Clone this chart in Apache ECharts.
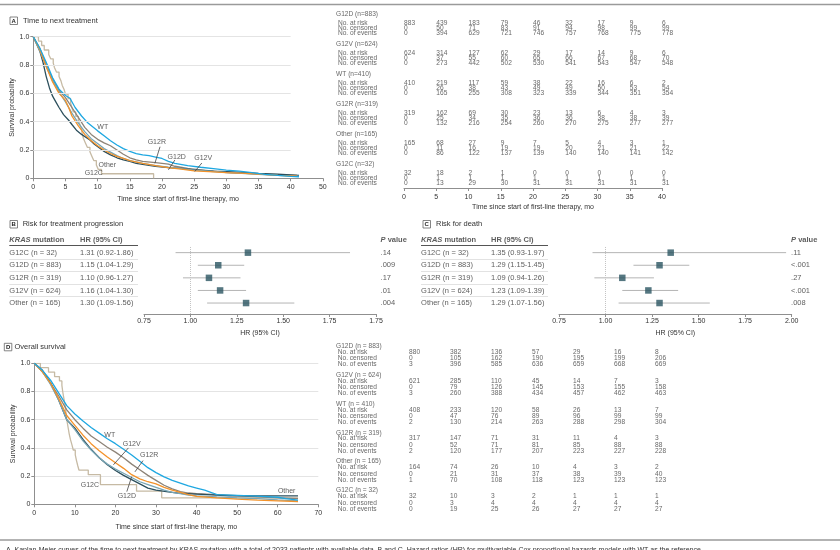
<!DOCTYPE html>
<html lang="en">
<head>
<meta charset="UTF-8">
<title>KRAS mutation and outcomes</title>
<script src="https://cdn.jsdelivr.net/npm/echarts@6.0.0/dist/echarts.min.js"></script>
<style>
  html, body { margin: 0; padding: 0; background: #fff; }
  #chart { width: 840px; height: 550px; }
</style>
</head>
<body>
<div id="chart"></div>
<script>
// ---- data ----
// Kaplan-Meier, time to next treatment (months, survival probability)
const kmA_WT = [[0,1],[1,0.92],[2,0.82],[3,0.71],[4,0.63],[5,0.585],[5.7,0.565],[6.5,0.5],[7.5,0.44],[8.5,0.39],[10,0.335],[11,0.3],[12,0.265],[13,0.235],[14,0.21],[15,0.19],[16,0.175],[17,0.165],[18,0.16],[19,0.15],[20,0.14],[21,0.12],[22,0.105],[24,0.09],[26,0.078],[28,0.068],[30,0.058],[32,0.05],[34,0.04],[36,0.028],[38,0.02],[40,0.014],[41.3,0.011]];
const kmA_G12D = [[0,1],[1,0.9],[2,0.79],[3,0.69],[4,0.61],[5,0.54],[6,0.46],[7,0.39],[8,0.33],[9,0.28],[10,0.245],[11,0.21],[12,0.185],[13,0.16],[14,0.14],[15,0.125],[17,0.105],[19,0.09],[21,0.078],[23,0.068],[25,0.058],[28,0.048],[30,0.042],[33,0.034],[35,0.028],[38,0.021],[41.3,0.016]];
const kmA_G12V = [[0,1],[1,0.91],[2,0.79],[3,0.68],[4,0.6],[5,0.55],[5.5,0.5],[6,0.44],[7,0.37],[8,0.31],[9,0.265],[10,0.23],[11,0.2],[12,0.175],[13,0.155],[14,0.14],[15,0.125],[17,0.105],[19,0.09],[21,0.075],[23,0.065],[25,0.052],[28,0.045],[30,0.04],[33,0.035],[35,0.03],[38,0.02],[41,0.015]];
const kmA_G12R = [[0,1],[1,0.92],[2,0.8],[3,0.7],[4,0.62],[5,0.57],[6,0.5],[7,0.43],[8,0.36],[9,0.31],[10,0.275],[11,0.25],[12,0.23],[13,0.2],[14,0.17],[15,0.145],[16,0.13],[17,0.12],[19,0.11],[21,0.1],[22,0.085],[24,0.07],[26,0.06],[28,0.05],[30,0.04],[33,0.035],[35,0.03],[38,0.025],[41,0.02]];
const kmA_Other = [[0,1],[0.5,0.95],[1,0.9],[1.5,0.82],[2,0.72],[2.5,0.64],[3,0.58],[3.5,0.54],[4,0.5],[4.7,0.45],[5.5,0.41],[6,0.38],[6.7,0.34],[7.5,0.31],[8.8,0.27],[9.5,0.24],[10.4,0.21],[11,0.19],[12,0.165],[13,0.145],[14,0.13],[15,0.12],[16,0.105],[17.5,0.095],[19,0.085],[21,0.075],[23,0.07],[25,0.06],[28,0.05],[31,0.045],[35,0.035],[38,0.03],[41.3,0.02]];
const kmA_G12C = [[0,1],[0.8,0.969],[1.3,0.938],[1.7,0.906],[2.4,0.875],[2.7,0.844],[3.1,0.813],[3.3,0.781],[3.6,0.75],[4.0,0.719],[4.3,0.688],[4.5,0.656],[4.8,0.625],[5.0,0.594],[5.4,0.563],[5.8,0.531],[6.0,0.5],[6.2,0.469],[6.6,0.438],[7.0,0.406],[7.3,0.375],[7.5,0.344],[7.6,0.313],[7.8,0.281],[8.1,0.25],[8.4,0.219],[8.8,0.188],[9.1,0.156],[9.4,0.125],[9.8,0.094],[10.1,0.063],[10.6,0.032],[18.7,0]];

// Kaplan-Meier, overall survival
const kmD_WT = [[0,1],[2,0.95],[4,0.88],[6,0.79],[8,0.7],[10,0.64],[12,0.59],[14,0.545],[16,0.505],[18,0.465],[20,0.43],[22,0.39],[24,0.35],[26,0.305],[28,0.26],[30,0.225],[32,0.195],[34,0.17],[36,0.15],[38,0.13],[40,0.115],[42,0.1],[44,0.08],[45,0.068],[50,0.063],[55,0.058],[60,0.05],[62,0.04],[65,0.03]];
const kmD_G12D = [[0,1],[2,0.94],[4,0.85],[6,0.74],[8,0.6],[10,0.53],[12,0.45],[14,0.385],[16,0.33],[18,0.285],[20,0.25],[22,0.22],[24,0.19],[26,0.16],[28,0.14],[30,0.12],[32,0.1],[34,0.085],[36,0.075],[38,0.065],[40,0.06],[45,0.052],[50,0.045],[55,0.04],[60,0.032],[65,0.025]];
const kmD_G12V = [[0,1],[2,0.94],[4,0.86],[6,0.75],[8,0.63],[10,0.56],[12,0.49],[14,0.43],[16,0.38],[18,0.335],[20,0.295],[22,0.255],[24,0.21],[26,0.18],[28,0.16],[30,0.145],[32,0.12],[34,0.1],[36,0.085],[38,0.068],[40,0.056],[45,0.045],[50,0.036],[55,0.03],[60,0.025],[65,0.02]];
const kmD_G12R = [[0,1],[2,0.94],[4,0.86],[6,0.77],[8,0.67],[10,0.6],[12,0.54],[14,0.485],[16,0.445],[18,0.405],[20,0.37],[22,0.33],[24,0.285],[26,0.245],[28,0.205],[30,0.17],[32,0.135],[34,0.11],[36,0.09],[38,0.08],[40,0.075],[45,0.068],[50,0.062],[55,0.052],[60,0.045],[65,0.04]];
const kmD_Other = [[0,1],[2,0.95],[4,0.86],[6,0.74],[8,0.6],[10,0.54],[12,0.46],[14,0.39],[16,0.33],[18,0.28],[20,0.24],[22,0.205],[24,0.175],[26,0.145],[28,0.115],[30,0.1],[33,0.088],[36,0.078],[40,0.072],[45,0.065],[48,0.06],[65,0.06]];
const kmD_G12C = [[0,1],[1.5,0.969],[3.5,0.938],[5,0.906],[6.2,0.875],[6.8,0.844],[7.0,0.8],[7.3,0.75],[7.6,0.7],[7.8,0.65],[8.0,0.6],[8.3,0.55],[8.6,0.5],[8.9,0.46],[9.3,0.42],[9.6,0.385],[10.1,0.35],[10.4,0.31],[10.7,0.275],[11.0,0.243],[13.3,0.21],[16.3,0.14],[25.2,0.093],[31.4,0.046],[65,0.046]];

// number-at-risk tables
const tableGroupsA = ['G12D (n=883)','G12V (n=624)','WT (n=410)','G12R (n=319)','Other (n=165)','G12C (n=32)'];
const tableColsA = [0,5,10,15,20,25,30,35,40];
const atRiskA = [[883,439,183,79,46,32,17,9,6],[624,314,127,62,29,17,14,9,6],[410,219,117,59,38,22,16,6,2],[319,162,69,30,23,13,6,4,3],[165,68,27,9,7,5,4,3,1],[32,18,2,1,0,0,0,0,0]];
const censoredA = [[0,50,71,83,91,94,98,99,99],[0,37,55,60,65,66,67,68,70],[0,26,38,43,49,49,50,53,54],[0,25,34,35,36,36,38,38,39],[0,11,16,19,19,20,21,21,22],[0,1,1,1,1,1,1,1,1]];
const eventsA = [[0,394,629,721,746,757,768,775,778],[0,273,442,502,530,541,543,547,548],[0,165,255,308,323,339,344,351,354],[0,132,216,254,260,270,275,277,277],[0,86,122,137,139,140,140,141,142],[0,13,29,30,31,31,31,31,31]];

const tableGroupsD = ['G12D (n = 883)','G12V (n = 624)','WT (n = 410)','G12R (n = 319)','Other (n = 165)','G12C (n = 32)'];
const tableColsD = [0,10,20,30,40,50,60];
const atRiskD = [[880,382,136,57,29,16,8],[621,285,110,45,14,7,3],[408,233,120,58,26,13,7],[317,147,71,31,11,4,3],[164,74,26,10,4,3,2],[32,10,3,2,1,1,1]];
const censoredD = [[0,105,162,190,195,199,206],[0,79,126,145,153,155,158],[0,47,76,89,96,99,99],[0,52,71,81,85,88,88],[0,21,31,37,38,39,40],[0,3,4,4,4,4,4]];
const eventsD = [[3,396,585,636,659,668,669],[3,260,388,434,457,462,463],[2,130,214,263,288,298,304],[2,120,177,207,223,227,228],[1,70,108,118,123,123,123],[0,19,25,26,27,27,27]];
const rowNames = ['No. at risk','No. censored','No. of events'];

// hazard ratios
const forestRows = ['G12C (n = 32)','G12D (n = 883)','G12R (n = 319)','G12V (n = 624)','Other (n = 165)'];
const hrB = [1.31,1.15,1.10,1.16,1.30];
const loB = [0.92,1.04,0.96,1.04,1.09];
const hiB = [1.86,1.29,1.27,1.30,1.56];
const pB = ['.14','.009','.17','.01','.004'];
const hrC = [1.35,1.29,1.09,1.23,1.29];
const loC = [0.93,1.15,0.94,1.09,1.07];
const hiC = [1.97,1.45,1.26,1.39,1.56];
const pC = ['.11','<.001','.27','<.001','.008'];

// tick labels as printed
const kmTicksA = ['0','5','10','15','20','25','30','35','40','50'];
const kmTicksD = ['0','10','20','30','40','50','60','70'];
const survTicks = ['0','0.2','0.4','0.6','0.8','1.0'];
const hrTicksB = ['0.75','1.00','1.25','1.50','1.75','1.75'];
const hrTicksC = ['0.75','1.00','1.25','1.50','1.75','2.00'];

// ---- styling / layout ----
const FONT = '"Liberation Sans", Arial, sans-serif';
const TXT = '#333';
const AX = '#8f8f8f';
const colors = { WT:'#1ea7e1', G12D:'#78a5b4', G12V:'#f3922a', G12R:'#8d8377', Other:'#2c4f5c', G12C:'#c6baa4' };
const drawOrder = ['G12C','G12R','Other','G12D','G12V','WT'];
const kmA = { WT:kmA_WT, G12D:kmA_G12D, G12V:kmA_G12V, G12R:kmA_G12R, Other:kmA_Other, G12C:kmA_G12C };
const kmD = { WT:kmD_WT, G12D:kmD_G12D, G12V:kmD_G12V, G12R:kmD_G12R, Other:kmD_Other, G12C:kmD_G12C };

// curve name labels and leader lines (data coordinates)
const curveLabelsA = [['WT',10.8,0.36],['G12R',19.2,0.255],['G12D',22.3,0.15],['G12V',26.4,0.143],['Other',11.5,0.094],['G12C',9.4,0.037]];
const leadersA = [[[19.7,0.223],[18.9,0.106]],[[22.0,0.129],[21.0,0.06]],[[26.2,0.108],[25.1,0.048]]];
const curveLabelsD = [['WT',18.6,0.49],['G12V',24.0,0.43],['G12R',28.3,0.35],['G12C',13.7,0.137],['G12D',22.8,0.059],['Other',62.2,0.096]];
const leadersD = [[[23.2,0.40],[19.5,0.28]],[[26.8,0.31],[24.8,0.23]],[[22.8,0.09],[24.0,0.196]]];

const chart = echarts.init(document.getElementById('chart'));

function tick(arr, min, step) {
  return v => arr[Math.round((v - min) / step)] || '';
}

function kmXAxis(gi, max, step, labels, nameGap) {
  return {
    gridIndex: gi, type: 'value', min: 0, max: max, interval: step,
    axisLine: { show: true, onZero: false, lineStyle: { color: AX, width: 1 } },
    axisTick: { show: true, length: 3, lineStyle: { color: AX } },
    axisLabel: { fontSize: 7, color: TXT, fontFamily: FONT, margin: 5, formatter: tick(labels, 0, step) },
    splitLine: { show: false },
    name: 'Time since start of first-line therapy, mo', nameLocation: 'middle', nameGap: nameGap,
    nameTextStyle: { fontSize: 7, color: TXT, fontFamily: FONT }
  };
}
function kmYAxis(gi, grid) {
  return {
    gridIndex: gi, type: 'value', min: 0, max: 1, interval: 0.2,
    axisLine: { show: true, onZero: false, lineStyle: { color: AX, width: 1 } },
    axisTick: { show: true, length: 3, lineStyle: { color: AX } },
    axisLabel: { fontSize: 7, color: TXT, fontFamily: FONT, margin: 4, formatter: tick(survTicks, 0, 0.2) },
    splitLine: { show: grid, lineStyle: { color: '#e4e4e4', width: 1 } },
    name: 'Survival probability', nameLocation: 'middle', nameGap: 17, nameRotate: 90,
    nameTextStyle: { fontSize: 7, color: TXT, fontFamily: FONT }
  };
}
function forestXAxis(gi, labels) {
  return {
    gridIndex: gi, type: 'value', min: 0.75, max: 2.0, interval: 0.25,
    axisLine: { show: true, onZero: false, lineStyle: { color: AX, width: 1 } },
    axisTick: { show: true, length: 3, lineStyle: { color: AX } },
    axisLabel: { fontSize: 7, color: TXT, fontFamily: FONT, margin: 4, formatter: tick(labels, 0.75, 0.25) },
    splitLine: { show: false },
    name: 'HR (95% CI)', nameLocation: 'middle', nameGap: 16,
    nameTextStyle: { fontSize: 7, color: TXT, fontFamily: FONT }
  };
}
function hidden(gi, min, max, inverse) {
  return { gridIndex: gi, type: 'value', min: min, max: max, show: false, inverse: !!inverse, splitLine: { show: false } };
}

const FROW_MIN = -1.6, FROW_MAX = 4.87;

const tableAxisA = kmXAxis(1, 40, 5, kmTicksA, 16);
tableAxisA.axisLabel = { fontSize: 7, color: TXT, fontFamily: FONT, margin: 6 };

const xAxis = [
  kmXAxis(0, 45, 5, kmTicksA, 17),
  tableAxisA,
  forestXAxis(2, hrTicksB),
  forestXAxis(3, hrTicksC),
  hidden(4, 0, 840),
  kmXAxis(5, 70, 10, kmTicksD, 19),
  hidden(6, 0, 60)
];
const yAxis = [
  kmYAxis(0, false),
  hidden(1, 0, 173.5, true),
  hidden(2, FROW_MIN, FROW_MAX, true),
  hidden(3, FROW_MIN, FROW_MAX, true),
  hidden(4, FROW_MIN, FROW_MAX, true),
  kmYAxis(5, true),
  hidden(6, 0, 160, true)
];

const series = [];

// panel A grid lines stop at 40 months
series.push({
  type: 'line', xAxisIndex: 0, yAxisIndex: 0, data: [], silent: true, z: 1,
  markLine: { silent: true, symbol: 'none', animation: false, label: { show: false },
    lineStyle: { color: '#e4e4e4', width: 1, type: 'solid' },
    data: [0.2, 0.4, 0.6, 0.8, 1.0].map(v => [{ coord: [0, v] }, { coord: [40, v] }]) }
});

function kmLine(ai, name, data) {
  return {
    type: 'line', name: name, xAxisIndex: ai, yAxisIndex: ai, data: data,
    showSymbol: false, symbol: 'none', step: name === 'G12C' ? 'end' : false,
    lineStyle: { color: colors[name], width: 1.3 }, itemStyle: { color: colors[name] },
    silent: true, z: 3
  };
}
drawOrder.forEach(n => series.push(kmLine(0, n, kmA[n])));
drawOrder.forEach(n => series.push(kmLine(5, n, kmD[n])));

function curveLabels(ai, labels, leaders) {
  return {
    type: 'scatter', xAxisIndex: ai, yAxisIndex: ai, symbolSize: 0.1, silent: true, z: 6,
    itemStyle: { color: 'rgba(0,0,0,0)' },
    data: labels.map(l => [l[1], l[2], l[0]]),
    label: { show: true, position: 'inside', formatter: p => p.data[2], color: TXT, fontSize: 7, fontFamily: FONT },
    markLine: { silent: true, symbol: 'none', animation: false, label: { show: false },
      lineStyle: { color: '#444', width: 0.8, type: 'solid' },
      data: leaders.map(s => [{ coord: s[0] }, { coord: s[1] }]) }
  };
}
series.push(curveLabels(0, curveLabelsA, leadersA));
series.push(curveLabels(5, curveLabelsD, leadersD));

// number-at-risk tables as text cells
function riskTable(ai, groups, cols, risk, cens, evts, headX, rowX, stride, offs) {
  const data = [];
  groups.forEach((g, gi) => {
    const y0 = gi * stride;
    data.push([headX, y0, g]);
    [risk[gi], cens[gi], evts[gi]].forEach((vals, r) => {
      const y = y0 + offs[r];
      data.push([rowX, y, rowNames[r]]);
      vals.forEach((v, c) => data.push([cols[c], y, String(v)]));
    });
  });
  return {
    type: 'scatter', xAxisIndex: ai, yAxisIndex: ai, clip: false, symbolSize: 0.1, silent: true,
    itemStyle: { color: 'rgba(0,0,0,0)' }, data: data,
    label: { show: true, position: 'right', distance: 0, formatter: p => p.data[2],
      color: '#404040', fontSize: 6.6, lineHeight: 6, fontFamily: FONT }
  };
}
series.push(riskTable(1, tableGroupsA, tableColsA, atRiskA, censoredA, eventsA, -10.54, -10.25, 29.9, [8.8, 13.9, 19]));
series.push(riskTable(6, tableGroupsD, tableColsD, atRiskD, censoredD, eventsD, -17.8, -17.4, 28.9, [5.9, 12.2, 18.5]));

// forest plots
function forest(ai, hr, lo, hi) {
  return [
    {
      type: 'custom', xAxisIndex: ai, yAxisIndex: ai, silent: true, z: 3,
      data: hr.map((h, i) => [lo[i], hi[i], i]),
      encode: { x: [0, 1], y: 2 },
      renderItem: (params, api) => {
        const a = api.coord([api.value(0), api.value(2)]);
        const b = api.coord([api.value(1), api.value(2)]);
        return { type: 'line', shape: { x1: a[0], y1: a[1], x2: b[0], y2: b[1] },
          style: { stroke: '#b4b4b4', lineWidth: 1 } };
      },
      markLine: { silent: true, symbol: 'none', animation: false, label: { show: false },
        lineStyle: { color: '#c4c4c4', width: 1, type: 'dotted' },
        data: [[{ coord: [1, -0.45] }, { coord: [1, FROW_MAX] }]] }
    },
    {
      type: 'scatter', xAxisIndex: ai, yAxisIndex: ai, silent: true, z: 4,
      symbol: 'rect', symbolSize: 6.5, itemStyle: { color: '#2a5562' },
      data: hr.map((h, i) => [h, i])
    }
  ];
}
series.push(...forest(2, hrB, loB, hiB));
series.push(...forest(3, hrC, loC, hiC));

// forest text columns (x in page pixels on grid 4)
function forestText(xLab, xHr, xP, xEnd, hr, lo, hi, p) {
  const data = [];
  forestRows.forEach((r, i) => {
    data.push([xLab, i, r]);
    data.push([xHr, i, hr[i].toFixed(2) + ' (' + lo[i].toFixed(2) + '-' + hi[i].toFixed(2) + ')']);
    data.push([xP, i, p[i]]);
  });
  const heads = [[xLab, -1, '{i|KRAS}{b| mutation}'], [xHr, -1, '{b|HR (95% CI)}'], [xP, -1, '{i|P}{b| value}']];
  const seps = [0.5, 1.5, 2.5, 3.5].map(y => [{ coord: [xLab, y] }, { coord: [xEnd, y] }]);
  return [
    {
      type: 'scatter', xAxisIndex: 4, yAxisIndex: 4, clip: false, symbolSize: 0.1, silent: true,
      itemStyle: { color: 'rgba(0,0,0,0)' }, data: data,
      label: { show: true, position: 'right', distance: 0, formatter: q => q.data[2], color: TXT, fontSize: 7.5, fontFamily: FONT },
      markLine: { silent: true, symbol: 'none', animation: false, label: { show: false },
        lineStyle: { color: '#d6d6d6', width: 0.7, type: 'solid' }, data: seps }
    },
    {
      type: 'scatter', xAxisIndex: 4, yAxisIndex: 4, clip: false, symbolSize: 0.1, silent: true,
      itemStyle: { color: 'rgba(0,0,0,0)' }, data: heads,
      label: { show: true, position: 'right', distance: 0, formatter: q => q.data[2], color: TXT, fontSize: 7.5, fontFamily: FONT,
        rich: { i: { fontStyle: 'italic', fontWeight: 'bold', fontSize: 7.5, color: TXT, fontFamily: FONT },
                b: { fontWeight: 'bold', fontSize: 7.5, color: TXT, fontFamily: FONT } } },
      markLine: { silent: true, symbol: 'none', animation: false, label: { show: false },
        lineStyle: { color: '#555', width: 1, type: 'solid' },
        data: [[{ coord: [xLab, -0.6] }, { coord: [xEnd, -0.6] }]] }
    }
  ];
}
series.push(...forestText(9.3, 80, 380.5, 138, hrB, loB, hiB, pB));
series.push(...forestText(421, 491, 791, 548, hrC, loC, hiC, pC));

// panel tags and titles
function tag(letter, x, y, title, tx) {
  return [
    { type: 'rect', shape: { x: x, y: y, width: 7.5, height: 7.5 }, style: { fill: '#fff', stroke: '#666', lineWidth: 0.8 } },
    { type: 'text', x: x + 3.75, y: y + 3.9, style: { text: letter, fontSize: 6, fontWeight: 'bold', fill: '#222', fontFamily: FONT, align: 'center', verticalAlign: 'middle' } },
    { type: 'text', x: tx, y: y + 3.9, style: { text: title, fontSize: 7.5, fill: TXT, fontFamily: FONT, verticalAlign: 'middle' } }
  ];
}
const graphic = [
  { type: 'line', shape: { x1: 0, y1: 4.5, x2: 840, y2: 4.5 }, style: { stroke: '#9a9a9a', lineWidth: 1.5 } },
  { type: 'line', shape: { x1: 0, y1: 540, x2: 840, y2: 540 }, style: { stroke: '#9a9a9a', lineWidth: 1.5 } },
  { type: 'text', x: 6, y: 546.5, style: { text: 'A, Kaplan-Meier curves of the time to next treatment by KRAS mutation with a total of 2033 patients with available data. B and C, Hazard ratios (HR) for multivariable Cox proportional hazards models with WT as the reference.', fontSize: 7, fill: TXT, fontFamily: FONT } },
  ...tag('A', 10, 17, 'Time to next treatment', 23),
  ...tag('B', 10, 220.5, 'Risk for treatment progression', 22.7),
  ...tag('C', 423, 220.5, 'Risk for death', 436),
  ...tag('D', 4.3, 343.3, 'Overall survival', 14.5)
];

chart.setOption({
  animation: false,
  textStyle: { fontFamily: FONT },
  grid: [
    { left: 33.3, top: 36.7, width: 289.5, height: 141.6 },
    { left: 404, top: 14.5, width: 258, height: 173.5 },
    { left: 144, top: 232.5, width: 232, height: 81.5 },
    { left: 559, top: 232.5, width: 232.7, height: 81.5 },
    { left: 0, top: 232.5, width: 840, height: 81.5 },
    { left: 34.3, top: 363.3, width: 284, height: 141 },
    { left: 409, top: 346, width: 246, height: 160 }
  ],
  xAxis: xAxis,
  yAxis: yAxis,
  series: series,
  graphic: graphic
});
</script>
</body>
</html>
